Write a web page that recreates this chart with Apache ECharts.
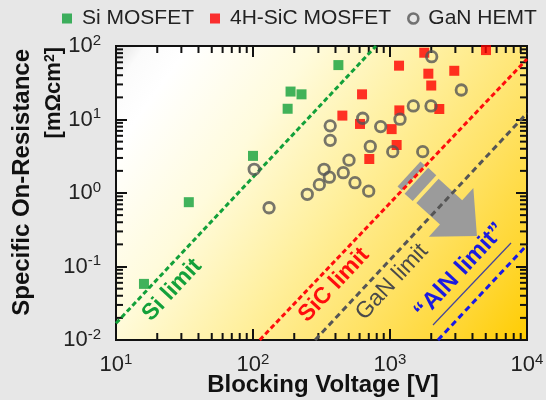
<!DOCTYPE html>
<html>
<head>
<meta charset="utf-8">
<script src="https://cdn.jsdelivr.net/npm/echarts@6/dist/echarts.min.js"></script>
<style>
html,body{margin:0;padding:0;background:#e7e7e7;}
#c{width:546px;height:400px;}
</style>
</head>
<body>
<div id="c"></div>
<script>
// ---- data ----
const xTickExp = ['1', '2', '3', '4'];          // 10^1 .. 10^4
const yTickExp = ['-2', '-1', '0', '1', '2'];   // 10^-2 .. 10^2

const siV = [16, 34, 100, 179, 188, 226, 420];
const siR = [0.058, 0.75, 3.2, 14, 24, 22, 55];

const sicV = [1778, 5020, 1164, 1905, 2946, 2000, 625, 449, 1170, 2290, 604, 1028, 1118, 706];
const sicR = [81, 88, 54, 42, 46, 29, 22, 11.3, 13.3, 13.9, 8.7, 7.4, 4.5, 2.9];

const ganV = [2015, 3315, 1480, 1992, 1183, 632, 366, 855, 366, 718, 1047, 1733, 502, 330, 456, 361, 555, 305, 699, 249, 102, 131];
const ganR = [71.5, 25.2, 15.3, 15.3, 10.1, 10.4, 8.2, 8.0, 5.2, 4.3, 3.65, 3.65, 2.8, 2.1, 1.89, 1.64, 1.38, 1.30, 1.06, 0.96, 2.1, 0.63];

const siLimit  = [[10, 0.0169], [790, 100]];
const sicLimit = [[112, 0.01], [10000, 66.5]];
const ganLimit = [[284, 0.01], [10000, 12.2]];
const alnLimit = [[2240, 0.01], [10000, 0.196]];

const seriesNames = ['Si MOSFET', '4H-SiC MOSFET', 'GaN HEMT'];

// ---- chart ----
const FONT = "'Liberation Sans', Arial, Helvetica, sans-serif";
const chart = echarts.init(document.getElementById('c'));

const minorX = [], minorY = [];
for (let k = 1; k < 4; k++) for (let m = 2; m < 10; m++) minorX.push(m * Math.pow(10, k));
for (let k = -2; k < 2; k++) for (let m = 2; m < 10; m++) minorY.push(+(m * Math.pow(10, k)).toPrecision(3));

const rich = {
  b: {fontSize: 22, fontFamily: FONT, color: '#222', lineHeight: 26},
  s: {fontSize: 15, fontFamily: FONT, color: '#222', lineHeight: 15, verticalAlign: 'top'}
};
function fmtX(v) { const e = Math.round(Math.log10(v)); return '{b|10}{s|' + xTickExp[e - 1] + '}'; }
function fmtY(v) { const e = Math.round(Math.log10(v)); return '{b|10}{s|' + yTickExp[e + 2] + '}'; }

const tickStyle = {show: true, inside: true, length: 11, lineStyle: {color: '#111', width: 2}};
const axisLine = {show: true, onZero: false, lineStyle: {color: '#111', width: 2}};

const bg = new echarts.graphic.LinearGradient(0, 0, 1, 1, [
  {offset: 0, color: '#e0e0e0'},
  {offset: 0.05, color: '#fbfbfb'},
  {offset: 0.12, color: '#ffffff'},
  {offset: 0.32, color: '#fffbdc'},
  {offset: 0.52, color: '#fff0a0'},
  {offset: 0.72, color: '#ffe265'},
  {offset: 0.88, color: '#ffd630'},
  {offset: 1, color: '#ffcc00'}
]);

function limitSeries(data, color, dash) {
  return {
    type: 'line', data: data, symbol: 'none', silent: true, z: 3,
    lineStyle: {color: color, width: 3, type: dash}
  };
}

const baseGraphic = [
  {
    type: 'group', x: 409, y: 174, rotation: -0.74, z: 20,
    children: [
      {type: 'polygon', shape: {points: [[0, -17], [6, -17], [6, 17], [0, 17]]}, style: {fill: '#9b9b9b'}},
      {type: 'polygon', shape: {points: [[10, -17.5], [21, -17.5], [21, 17.5], [10, 17.5]]}, style: {fill: '#9b9b9b'}},
      {type: 'polygon', shape: {points: [[25, -16.5], [57, -16.5], [57, -33], [92, 0], [57, 33], [57, 16.5], [25, 16.5]]}, style: {fill: '#9b9b9b'}}
    ]
  },
  {type: 'text', x: 172, y: 290, rotation: 0.82, z: 20,
   style: {text: 'Si limit', fontSize: 23, fontWeight: 'bold', fontFamily: FONT, fill: '#13a03a', align: 'center', verticalAlign: 'middle'}},
  {type: 'text', x: 334, y: 285, rotation: 0.82, z: 20,
   style: {text: 'SiC limit', fontSize: 23, fontWeight: 'bold', fontFamily: FONT, fill: '#ff0d0d', align: 'center', verticalAlign: 'middle'}},
  {type: 'text', x: 392, y: 282, rotation: 0.82, z: 20,
   style: {text: 'GaN limit', fontSize: 23, fontWeight: 'normal', fontFamily: FONT, fill: '#4a4a4a', align: 'center', verticalAlign: 'middle'}},
  {type: 'text', x: 460, y: 271, rotation: 0.82, z: 20,
   style: {text: '\u201cAlN limit\u201d', fontSize: 24, fontWeight: 'bold', fontFamily: FONT, fill: '#1a1ae0', align: 'center', verticalAlign: 'middle'}},
  {type: 'line', z: 20, shape: {x1: 433, y1: 325, x2: 511, y2: 243}, style: {stroke: '#44449a', lineWidth: 1.2}},
  {type: 'text', x: 323, y: 385, z: 20,
   style: {text: 'Blocking Voltage [V]', fontSize: 24, fontWeight: 'bold', fontFamily: FONT, fill: '#111', align: 'center', verticalAlign: 'middle'}},
  {type: 'text', x: 22, y: 49, rotation: Math.PI / 2, z: 20,
   style: {text: 'Specific On-Resistance', fontSize: 24, fontWeight: 'bold', fontFamily: FONT, fill: '#111', align: 'right', verticalAlign: 'middle'}},
  {type: 'text', x: 54, y: 47, rotation: Math.PI / 2, z: 20,
   style: {text: '[m\u03a9cm{s|2}]', fontSize: 22, fontWeight: 'bold', fontFamily: FONT, fill: '#111', align: 'right', verticalAlign: 'middle',
     rich: {s: {fontSize: 14, fontWeight: 'bold', fontFamily: FONT, fill: '#111', verticalAlign: 'top', lineHeight: 14}}}}
];

const option = {
  backgroundColor: '#e7e7e7',
  animation: false,
  grid: {
    left: 116, right: 19, top: 46, bottom: 60,
    show: true, backgroundColor: bg, borderColor: '#111', borderWidth: 2,
    outerBoundsMode: 'none', containLabel: false
  },
  legend: {
    left: 58, top: 4, width: 488, padding: [4, 4, 4, 4],
    itemWidth: 10, itemHeight: 10, itemGap: 16,
    textStyle: {fontSize: 21, color: '#222', fontFamily: FONT, padding: [0, 0, 0, 5]},
    data: [
      {name: seriesNames[0], icon: 'rect'},
      {name: seriesNames[1], icon: 'rect'},
      {name: seriesNames[2], icon: 'circle', itemStyle: {color: 'rgba(0,0,0,0)', borderColor: '#555', borderWidth: 2.6}}
    ]
  },
  xAxis: [
    {type: 'log', min: 10, max: 10000, position: 'bottom', axisLine: axisLine, axisTick: tickStyle,
     splitLine: {show: false},
     axisLabel: {formatter: fmtX, rich: rich, margin: 12}},
    {type: 'log', min: 10, max: 10000, position: 'top', axisLine: axisLine, axisTick: tickStyle,
     splitLine: {show: false}, axisLabel: {show: false}}
  ],
  yAxis: [
    {type: 'log', min: 0.01, max: 100, position: 'left', axisLine: axisLine, axisTick: tickStyle,
     splitLine: {show: false},
     axisLabel: {formatter: fmtY, rich: rich, margin: 15}},
    {type: 'log', min: 0.01, max: 100, position: 'right', axisLine: axisLine, axisTick: tickStyle,
     splitLine: {show: false}, axisLabel: {show: false}}
  ],
  series: [
    limitSeries(siLimit, '#13a03a', [5, 3]),
    limitSeries(sicLimit, '#ff0d0d', [5, 3]),
    limitSeries(ganLimit, '#555555', [6, 4]),
    limitSeries(alnLimit, '#1a1ae6', [6, 4]),
    {
      name: seriesNames[0], type: 'scatter', symbol: 'rect', symbolSize: 10, z: 4,
      itemStyle: {color: '#12a03a'},
      data: siV.map((v, i) => [v, siR[i]])
    },
    {
      name: seriesNames[1], type: 'scatter', symbol: 'rect', symbolSize: 10, z: 4,
      itemStyle: {color: '#ff0000'},
      data: sicV.map((v, i) => [v, sicR[i]])
    },
    {
      name: seriesNames[2], type: 'scatter', symbol: 'circle', symbolSize: 10.5, z: 4,
      itemStyle: {color: 'rgba(0,0,0,0)', borderColor: '#555', borderWidth: 2.8},
      data: ganV.map((v, i) => [v, ganR[i]])
    }
  ],
  graphic: baseGraphic
};
chart.setOption(option);

// minor log ticks (2..9 x 10^k), placed through the chart's own axis scales
const tickChildren = [];
function tickLine(x1, y1, x2, y2) {
  return {type: 'line', shape: {x1: x1, y1: y1, x2: x2, y2: y2}, style: {stroke: '#111', lineWidth: 2}};
}
minorX.forEach(v => {
  const b = chart.convertToPixel({gridIndex: 0}, [v, 0.01]);
  const t = chart.convertToPixel({gridIndex: 0}, [v, 100]);
  tickChildren.push(tickLine(b[0], b[1], b[0], b[1] - 7));
  tickChildren.push(tickLine(t[0], t[1], t[0], t[1] + 7));
});
minorY.forEach(v => {
  const l = chart.convertToPixel({gridIndex: 0}, [10, v]);
  const r = chart.convertToPixel({gridIndex: 0}, [10000, v]);
  tickChildren.push(tickLine(l[0], l[1], l[0] + 7, l[1]));
  tickChildren.push(tickLine(r[0], r[1], r[0] - 7, r[1]));
});
chart.setOption({graphic: baseGraphic.concat([{type: 'group', z: 15, children: tickChildren}])});
</script>
</body>
</html>
